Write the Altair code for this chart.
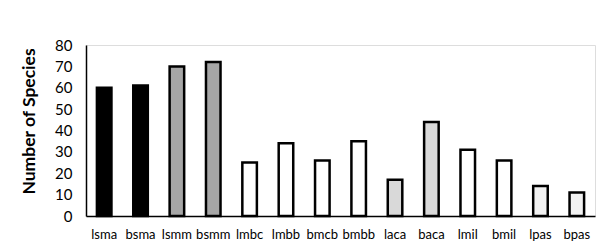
import altair as alt
import pandas as pd

categories = ["lsma", "bsma", "lsmm", "bsmm", "lmbc", "lmbb", "bmcb", "bmbb",
              "laca", "baca", "lmil", "bmil", "lpas", "bpas"]
species = [60, 61, 70, 72, 25, 34, 26, 35, 17, 44, 31, 26, 14, 11]
fills = ["#000000", "#000000", "#a6a6a6", "#a6a6a6", "#ffffff", "#ffffff", "#ffffff", "#ffffff",
         "#d9d9d9", "#d9d9d9", "#ffffff", "#ffffff", "#f2f2f2", "#f2f2f2"]

df = pd.DataFrame({"cat": categories, "n": species, "fill": fills})

chart = alt.Chart(df).mark_bar(stroke="black", strokeWidth=2.5).encode(
    x=alt.X("cat:N", sort=categories,
            scale=alt.Scale(paddingInner=0.6, paddingOuter=0.3),
            axis=alt.Axis(title=None, labelAngle=0, ticks=False, labelPadding=12,
                          labelFont="Lato", labelFontSize=13, labelColor="black",
                          domainColor="black", domainWidth=1.5)),
    y=alt.Y("n:Q", scale=alt.Scale(domain=[0, 80]),
            axis=alt.Axis(title="Number of Species", values=list(range(0, 81, 10)),
                          ticks=False, grid=False, labelPadding=14,
                          labelFont="Lato", labelFontSize=15, labelColor="black",
                          titleFont="Lato", titleFontSize=17.5, titleFontWeight="bold",
                          titleColor="black", titleAngle=270, titleX=-57, titleY=76,
                          titleAlign="center", titleBaseline="middle",
                          domainColor="black", domainWidth=1.5)),
    fill=alt.Fill("fill:N", scale=None),
).properties(
    width=509, height=171,
    autosize=alt.AutoSizeParams(type="none"),
    padding={"left": 78, "top": 37, "right": 2, "bottom": 26},
).configure_view(stroke=None).configure(background="white")

chart.save("out.html", embed_options={"renderer": "svg", "actions": False})
